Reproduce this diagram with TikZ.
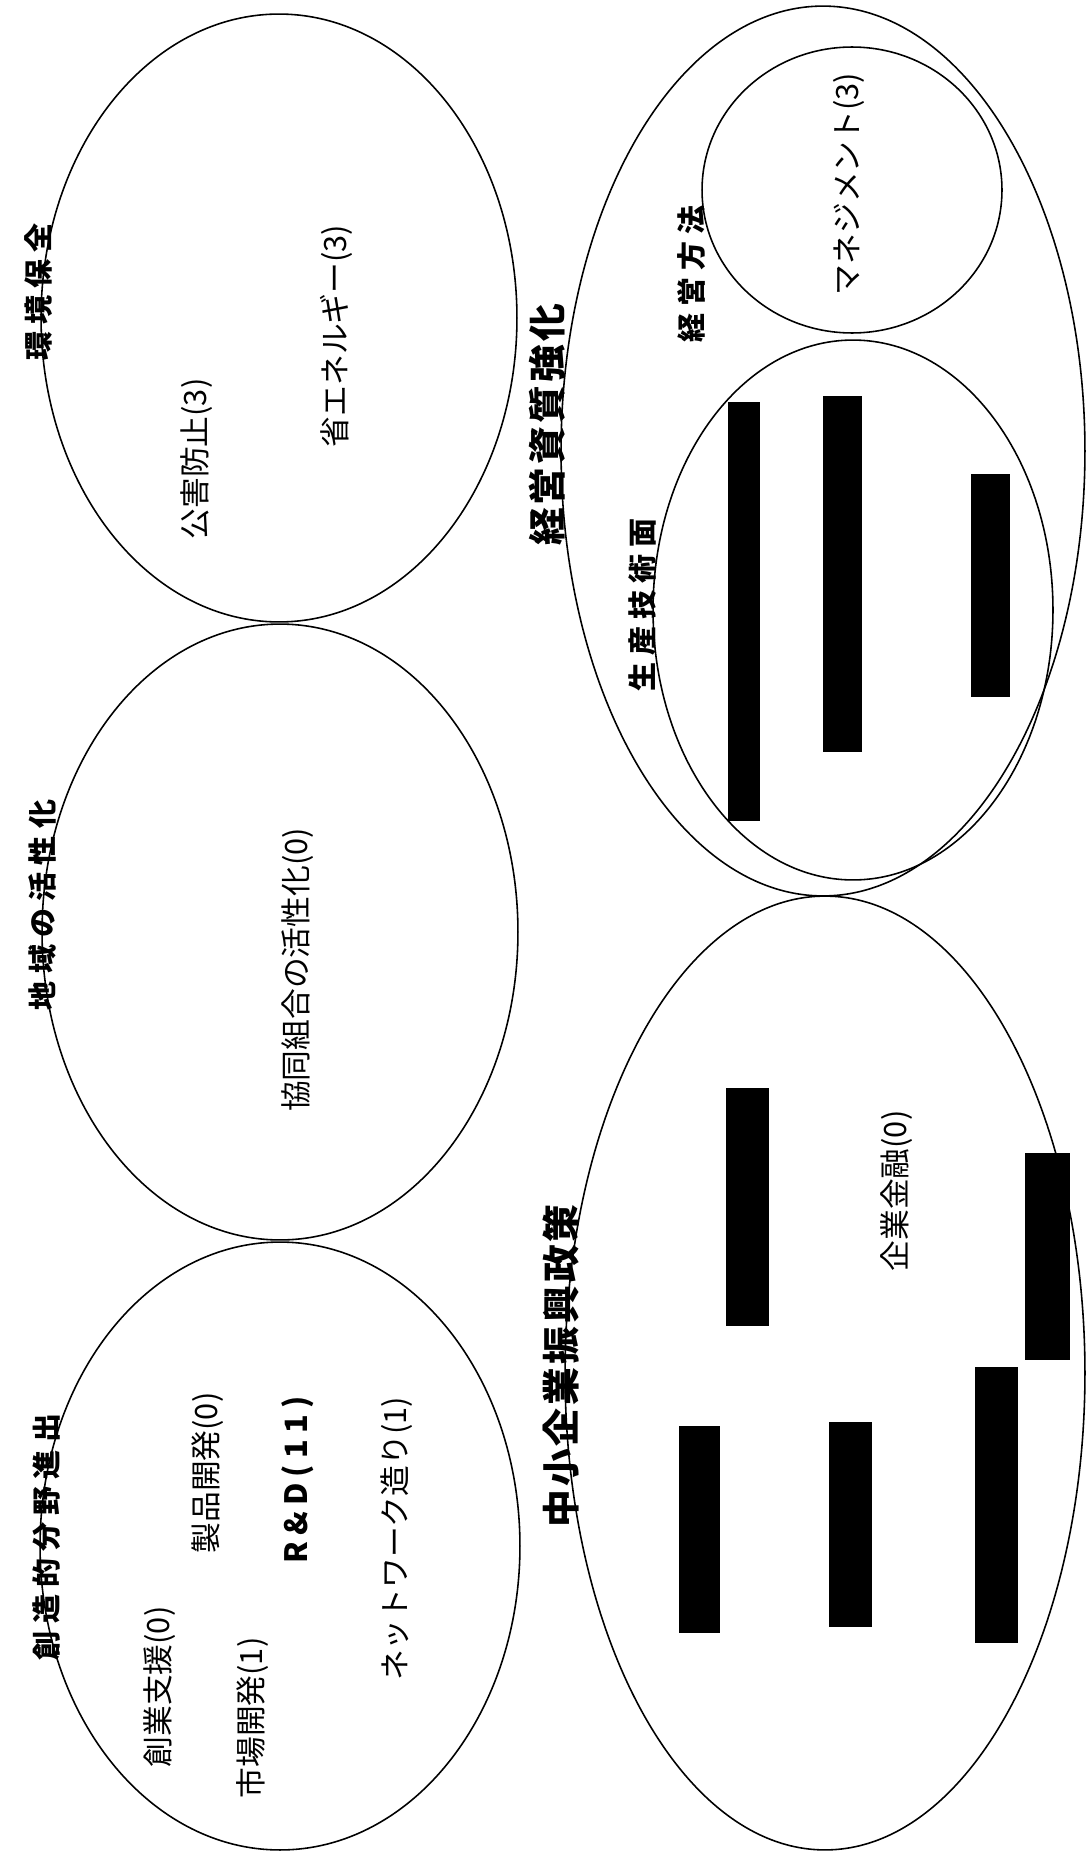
\documentclass[tikz,border=0pt]{standalone}
\usepackage{fontspec}
\setmainfont{Noto Sans CJK JP}
\usepackage{tikz}
\usetikzlibrary{shapes.geometric}

\begin{document}
\begin{tikzpicture}[x=0.02cm, y=-0.02cm,
    area/.style={ellipse, draw, line width=0.9pt, inner sep=0pt, outer sep=0pt},
    heading/.style={rotate=90, inner sep=0pt, font=\fontsize{16.5pt}{18pt}\selectfont\bfseries\addfontfeature{LetterSpace=25}},
    bigheading/.style={rotate=90, inner sep=0pt, font=\fontsize{21.5pt}{24pt}\selectfont\bfseries\addfontfeature{LetterSpace=8}},
    item/.style={rotate=90, inner sep=0pt, font=\fontsize{17.5pt}{20pt}\selectfont},
    redact/.style={fill=black}
]
    \useasboundingbox (0,0) rectangle (1086,1852);

    \node[area, minimum width=9.52cm, minimum height=12.16cm] (env) at (279,318) {};
    \node[area, minimum width=9.52cm, minimum height=12.32cm] (region) at (280,932) {};
    \node[area, minimum width=9.6cm, minimum height=12.16cm] (creative) at (280,1546) {};
    \node[area, minimum width=10.48cm, minimum height=17.8cm] (quality) at (823,451) {};
    \node[area, minimum width=6cm, minimum height=5.72cm] (method) at (852,190) {};
    \node[area, minimum width=8cm, minimum height=10.8cm] (tech) at (853,610) {};
    \node[area, minimum width=10.4cm, minimum height=19.08cm] (sme) at (825,1373) {};

    \node[heading] (envttl) at (38,292) {環境保全};
    \node[item] (pollution) at (197,459) {公害防止(3)};
    \node[item] (energy) at (336,336) {省エネルギー(3)};

    \node[heading] (regionttl) at (42,905) {地域の活性化};
    \node[item] (coop) at (298,970) {協同組合の活性化(0)};

    \node[heading] (creativettl) at (47,1537) {創造的分野進出};
    \node[item] (startup) at (160,1687) {創業支援(0)};
    \node[item] (product) at (208,1473) {製品開発(0)};
    \node[item] (market) at (253,1718) {市場開発(1)};
    \node[item, font=\fontsize{17.5pt}{20pt}\selectfont\bfseries\addfontfeature{LetterSpace=20}] (rnd) at (298,1480) {R\&D(11)};
    \node[item] (network) at (397,1539) {ネットワーク造り(1)};

    \node[bigheading] (qualityttl) at (547,425) {経営資質強化};
    \node[heading] (methodttl) at (692,274) {経営方法};
    \node[item] (mgmt) at (849,184) {マネジメント(3)};
    \node[heading] (techttl) at (642,605) {生産技術面};
    \fill[redact] (728,402) rectangle (760,821);
    \fill[redact] (823,396) rectangle (862,752);
    \fill[redact] (971,474) rectangle (1010,697);

    \node[bigheading] (smettl) at (561,1366) {中小企業振興政策};
    \node[item] (finance) at (897,1191) {企業金融(0)};
    \fill[redact] (726,1088) rectangle (769,1326);
    \fill[redact] (679,1426) rectangle (720,1633);
    \fill[redact] (829,1422) rectangle (872,1627);
    \fill[redact] (975,1367) rectangle (1018,1643);
    \fill[redact] (1025,1153) rectangle (1070,1360);
\end{tikzpicture}
\end{document}
